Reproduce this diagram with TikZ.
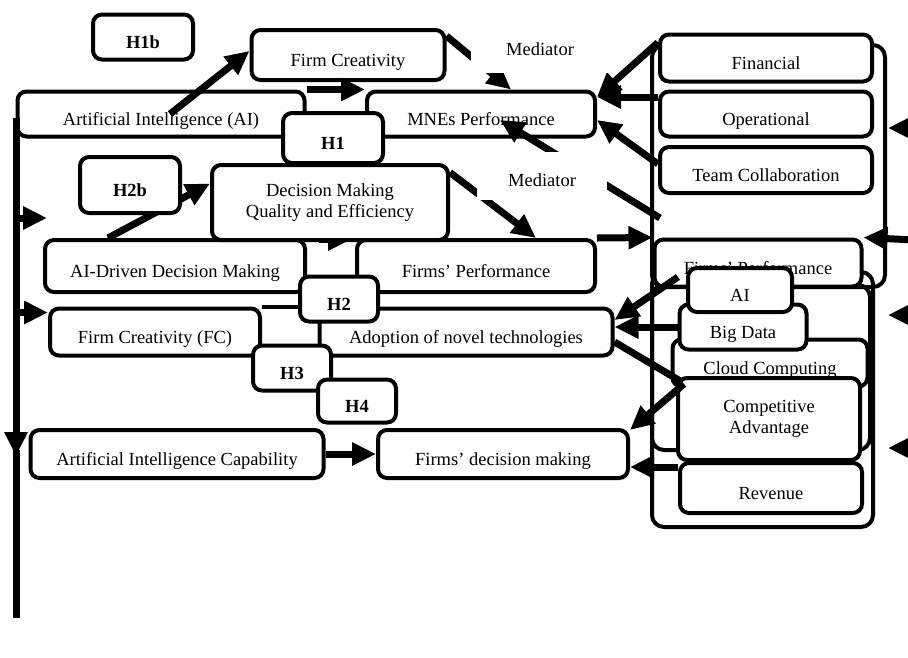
\documentclass[tikz,border=0pt]{standalone}
\usepackage{fontspec}
\setmainfont{Liberation Serif}
\usetikzlibrary{arrows.meta}

\begin{document}
\begin{tikzpicture}[
    x=1pt, y=-1pt,
    font=\fontsize{18.5}{21}\selectfont,
    box/.style={draw, line width=4pt, rounded corners=9pt, fill=white, align=center, inner sep=2pt},
    oneline/.style={text height=22pt, text depth=0pt},
    hbox/.style={box, oneline, font=\fontsize{18.5}{21}\selectfont\bfseries},
    frame/.style={draw, line width=4pt, rounded corners=12pt},
    arr/.style={line width=7pt, -{Triangle[length=24pt, width=22pt]}},
    bar/.style={line width=7pt},
    medlbl/.style={fill=white, inner sep=0pt, text height=20pt, text depth=0pt}
  ]
  \useasboundingbox (0,0) rectangle (908,657);
  % groups on the right
  \draw[frame] (652,45) rectangle (885,287);
  \draw[frame] (652,272) rectangle (873,527);
  \draw[frame] (652,285) rectangle (870,450);
  % boxes
  \foreach \nm/\cx/\cy/\w/\h/\txt in {%
    fc/348/55/193/50/Firm Creativity,
    ai/161/114/287/45/Artificial Intelligence (AI),
    mnes/481/114/228/45/MNEs Performance,
    aidd/175/266/260/52/AI-Driven Decision Making,
    fp/476/266/238/52/Firms’ Performance,
    fcfc/155/332/210/47/Firm Creativity (FC),
    adopt/466/332/293/47/Adoption of novel technologies,
    aicap/177/454/293/48/Artificial Intelligence Capability,
    fdm/503/454/250/48/Firms’ decision making,
    fin/766/58/212/47/Financial,
    oper/766/114/212/45/Operational,
    team/766/170/212/46/Team Collaboration,
    rfp/758/263/207/47/Firms’ Performance,
    cloud/770/363/195/47/Cloud Computing,
    bd/743/327/127/45/Big Data,
    rai/740/290/104/44/AI,
    rev/771/488/182/50/Revenue%
  }{
    \node[box, oneline, minimum width=\w, minimum height=\h] (\nm) at (\cx,\cy) {\txt};
  }
  \node[box, minimum width=182, minimum height=82] (ca) at (769,419) {Competitive\\Advantage};
  \draw[line width=4pt] (fcfc.north east) -- (adopt.north west);
  \draw[arr] ([xshift=12pt,yshift=-1pt]aidd.north east) -- ([xshift=-3pt,yshift=-1pt]fp.north west);
  \node[hbox, minimum width=100, minimum height=50] (h1) at (333,138) {H1};
  \node[box, minimum width=236, minimum height=75] (dmq) at (330,202.5) {Decision Making\\Quality and Efficiency};
  % left bar
  \coordinate (vtop) at (16,118);
  \coordinate (vdown) at (16,456);
  \coordinate (vbot) at (16,618);
  \coordinate (vmid) at (47,218);
  \coordinate (fcin) at ([yshift=-6pt]fcfc.north west);
  \draw[arr] (vtop) -- (vdown);
  \draw[bar] ([yshift=6pt]vdown) -- (vbot);
  \draw[arr] (vtop |- vmid) -- (vmid);
  \draw[arr] (fcin -| vtop) -- (fcin);
  % links
  \draw[arr] ([xshift=9pt]ai.center) -- ([yshift=4pt]fc.west);
  \draw[arr] (ai.north east) -- (mnes.north west);
  \draw[arr] ([yshift=-8pt]fc.north east) -- ([xshift=30pt]mnes.north);
  \draw[arr] ([yshift=-10pt]fin.north west) -- ([yshift=17pt]mnes.east);
  \draw[arr] ([yshift=17pt]oper.west) -- ([yshift=17pt]mnes.east);
  \draw[arr] ([yshift=6pt]team.west) -- ([yshift=-6pt]mnes.east);
  \coordinate (tcfoot) at (660,218);
  \draw[arr] (tcfoot) -- ([xshift=19pt,yshift=-6pt]mnes.center);
  \draw[arr] ([xshift=65pt]aidd.north west) -- ([yshift=19pt]dmq.west);
  \draw[arr] ([yshift=30pt]dmq.east) -- ([xshift=60pt]fp.north);
  \draw[arr] (fp.north east) -- (rfp.north west);
  \coordinate (redge) at (915,240);
  \draw[arr] (redge) -- (rfp.north east);
  \foreach \yy in {128,315,448}
    \draw[arr] (915,\yy) -- (888,\yy);
  \draw[arr] ([xshift=-8pt,yshift=13pt]rai.west) -- ([yshift=12pt]adopt.east);
  \draw[arr] (bd.west) -- (bd.west -| adopt.east);
  \draw[bar] ([yshift=-10pt]adopt.east) -- ([xshift=6pt,yshift=-6pt]ca.north west);
  \draw[arr] ([xshift=8pt,yshift=-8pt]ca.north west) -- ([yshift=-2pt]fdm.north east);
  \draw[arr] ([yshift=21pt]rev.west) -- ([yshift=21pt]rev.west -| fdm.east);
  \draw[arr] (aicap.east) -- (fdm.west);
  % mediator labels
  \node[medlbl, minimum width=138, minimum height=55] (med1) at (540,45) {Mediator};
  \node[medlbl, minimum width=130, minimum height=48] (med2) at (542,176) {Mediator};
  % hypotheses
  \foreach \nm/\cx/\cy/\w/\h/\txt in {%
    h2b/130/185/100/56/H2b,
    h2/339/299/78/45/H2,
    h3/292/368/78/45/H3,
    h4/357/401/78/43/H4,
    h1b/143/37/100/45/H1b%
  }{
    \node[hbox, minimum width=\w, minimum height=\h] (\nm) at (\cx,\cy) {\txt};
  }
\end{tikzpicture}
\end{document}
